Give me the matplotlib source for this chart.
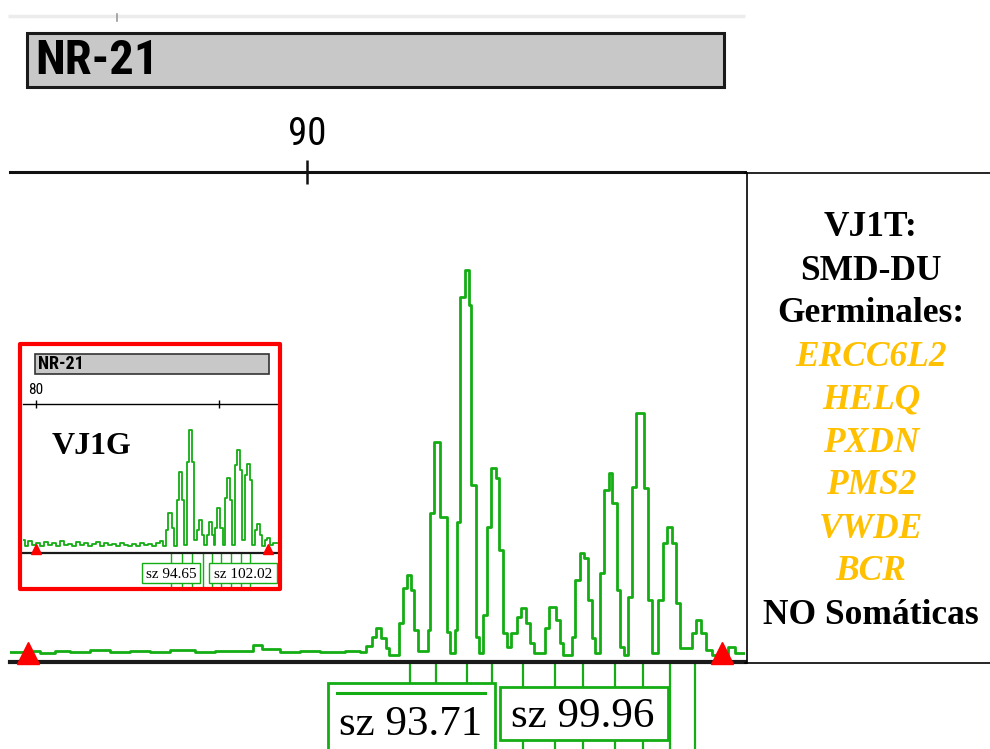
import matplotlib
matplotlib.use("Agg")
import matplotlib.pyplot as plt
from matplotlib import font_manager
from matplotlib.patches import Rectangle

# NR-21 electropherogram, tumour (VJ1T) with germline sample (VJ1G) as inset

# main trace (size in bp, height in RFU), drawn as steps
trace_bp = [79.93, 80.44, 80.95, 81.46, 81.97, 82.64, 83.32, 84.00, 84.68, 85.36,
            86.20, 86.88, 87.73, 88.17, 88.47, 89.08, 89.76, 90.44, 91.29, 91.80,
            92.00, 92.20, 92.34, 92.51, 92.68, 92.78,
            93.12, 93.25, 93.39, 93.53, 93.63, 93.76,
            94.10, 94.17, 94.31, 94.51, 94.75, 94.85,
            95.02, 95.08, 95.19, 95.36, 95.49, 95.56, 95.73, 95.83,
            95.97, 96.10, 96.24, 96.41, 96.51, 96.64, 96.78,
            96.92, 97.12, 97.25, 97.42, 97.56, 97.69,
            98.07, 98.20, 98.44, 98.58, 98.68,
            98.98, 99.08, 99.25, 99.39, 99.53, 99.66, 99.76,
            99.93, 100.07, 100.24, 100.34, 100.51, 100.61, 100.75,
            100.88, 101.02, 101.15, 101.42, 101.56, 101.69,
            101.90, 102.07, 102.20, 102.37, 102.51, 102.64,
            103.05, 103.19, 103.36, 103.53, 103.73,
            104.27, 104.51, 104.85]
trace_rfu = [50, 60, 40, 60, 50, 70, 50, 60, 50, 70,
             50, 60, 60, 120, 80, 50, 60, 50, 60, 50,
             110, 200, 290, 190, 90, 20,
             340, 690, 820, 670, 270, 60,
             270, 1440, 2150, 1400, 250, 40,
             270, 1350, 3600, 3870, 3520, 1720, 200, 40,
             420, 1300, 1890, 1790, 1070, 240, 100,
             240, 400, 490, 340, 140, 40,
             290, 500, 370, 140, 20,
             200, 770, 1040, 990, 570, 190, 40,
             840, 1670, 1840, 1540, 670, 100, 20,
             600, 1700, 2440, 1690, 570, 40,
             570, 1140, 1300, 1140, 540, 90,
             240, 370, 240, 70, 20,
             100, 40, 40]

# inset trace, germline sample
inset_bp = [78.62, 78.83, 79.16, 79.60, 80.03, 80.47, 80.91, 81.34, 81.78, 82.21,
            82.65, 83.09, 83.52, 83.96, 84.39, 84.83, 85.27, 85.70, 86.14, 86.58,
            87.01, 87.45, 87.88, 88.32, 88.76, 89.19, 89.63, 90.07, 90.50, 90.94,
            91.37, 91.81, 92.25, 92.68, 93.12, 93.56, 93.88,
            94.21, 94.43, 94.86, 95.08,
            95.41, 95.63, 95.95, 96.17,
            96.50, 96.72, 97.04, 97.26,
            97.59, 97.81, 98.14, 98.35,
            98.68, 98.90, 99.23, 99.44,
            99.55, 99.77, 100.10, 100.43,
            100.64, 100.86, 101.19, 101.41,
            101.73, 101.95, 102.28, 102.50,
            102.82, 103.04, 103.37, 103.59,
            103.91, 104.13, 104.46, 104.68,
            105.01, 105.23, 105.55, 105.88, 106.64]
inset_rfu = [225, 75, 200, 100, 150, 75, 175, 100, 150, 75,
             200, 100, 125, 75, 175, 100, 150, 75, 125, 175,
             75, 150, 100, 125, 75, 150, 100, 75, 125, 75,
             150, 100, 125, 75, 150, 200, 75,
             475, 900, 525, 75,
             1225, 1925, 1225, 100,
             2175, 2975, 2175, 225,
             475, 725, 350, 100,
             350, 675, 350, 100,
             525, 1025, 525, 100,
             1275, 1775, 1225, 100,
             2100, 2475, 1975, 225,
             1850, 2125, 1725, 100,
             475, 625, 350, 75,
             225, 275, 100, 150, 100]

main_ticks = [90]
main_tick_labels = ["90"]
inset_ticks = [80, 100]
inset_tick_labels = ["80", ""]

main_markers_bp = [80.54, 104.07]
inset_markers_bp = [80.03, 105.33]

main_bins_bp = [93.49, 94.37, 95.42, 96.27, 97.32, 98.41, 99.36, 100.44, 101.39, 102.31, 103.15]
inset_bins_bp = [94.75, 95.95, 97.04, 98.24, 99.23, 100.21, 101.30, 102.39, 103.37]

marker_name = "NR-21"
main_calls = ["sz 93.71", "sz 99.96"]
inset_calls = ["sz 94.65", "sz 102.02"]
inset_sample = "VJ1G"

side_lines = ["VJ1T:", "SMD-DU", "Germinales:", "ERCC6L2", "HELQ", "PXDN",
              "PMS2", "VWDE", "BCR", "NO Somáticas"]
side_is_gene = [False, False, False, True, True, True, True, True, True, False]

GREEN = "#14ad14"
RED = "#ff0000"
GOLD = "#ffc000"

names = {f.name for f in font_manager.fontManager.ttflist}
narrow = "Liberation Sans" if "Liberation Sans" in names else "DejaVu Sans"
for cand in ["Liberation Sans Narrow", "Roboto Condensed", "Open Sans Condensed", "DejaVu Sans Condensed"]:
    if cand in names:
        narrow = cand
        break
serif = "Liberation Serif" if "Liberation Serif" in names else "DejaVu Serif"

W, H = 990, 749
fig = plt.figure(figsize=(W / 100, H / 100), dpi=100)


def frac(x0, y0, x1, y1):
    return [x0 / W, 1 - y1 / H, (x1 - x0) / W, (y1 - y0) / H]


# --- main electropherogram ---
ax = fig.add_axes(frac(10, 172, 745, 662))
ax.set_zorder(1)
ax.step(trace_bp, trace_rfu, where="post", color=GREEN, lw=2.0, zorder=3)
ax.set_xlim(79.93, 104.85)
ax.set_ylim(-50, 4850)
for s in ["left", "right"]:
    ax.spines[s].set_visible(False)
ax.spines["top"].set_linewidth(2.2)
ax.spines["top"].set_color("#111111")
ax.spines["bottom"].set_linewidth(3.0)
ax.spines["bottom"].set_color("#1a1a1a")
ax.set_yticks([])
ax.xaxis.tick_top()
ax.set_xticks(main_ticks)
ax.set_xticklabels(main_tick_labels, family=narrow)
ax.tick_params(axis="x", direction="inout", length=17, width=1.8, pad=5,
               labelsize=28, color="#111111")
ax.plot(main_markers_bp, [40] * len(main_markers_bp), ls="none", marker="^", ms=16,
        color=RED, clip_on=False, zorder=6)
ax.vlines(main_bins_bp, -60, -950, color=GREEN, lw=1.6, clip_on=False)

# --- inset (germline) ---
ins = fig.add_axes(frac(23, 404, 280, 553))
ins.set_zorder(2)
ins.set_facecolor("white")
ins.step(inset_bp, inset_rfu, where="post", color=GREEN, lw=1.3, zorder=3)
ins.set_xlim(78.62, 106.64)
ins.set_ylim(-100, 3625)
for s in ["left", "right"]:
    ins.spines[s].set_visible(False)
ins.spines["top"].set_linewidth(1.0)
ins.spines["bottom"].set_linewidth(1.6)
ins.spines["bottom"].set_color("#1a1a1a")
ins.set_yticks([])
ins.xaxis.tick_top()
ins.set_xticks(inset_ticks)
ins.set_xticklabels(inset_tick_labels, family=narrow)
ins.tick_params(axis="x", direction="inout", length=6, width=1.0, pad=2, labelsize=11)
ins.plot(inset_markers_bp, [0] * len(inset_markers_bp), ls="none", marker="^", ms=7,
         color=RED, clip_on=False, zorder=6)
ins.vlines(inset_bins_bp, -100, -975, color=GREEN, lw=1.0, clip_on=False)

# --- overlay in pixel units for header bars, call boxes and notes ---
ov = fig.add_axes([0, 0, 1, 1])
ov.set_zorder(3)
ov.patch.set_alpha(0)
ov.set_xlim(0, W)
ov.set_ylim(H, 0)
ov.axis("off")

ov.plot([8, 745], [16, 16], color="#ececec", lw=2.5, solid_capstyle="butt")
ov.plot([117, 117], [14, 21], color="#9a9a9a", lw=1.2)

ov.add_patch(Rectangle((27, 33), 697, 54, facecolor="#c8c8c8", edgecolor="#1a1a1a", lw=2.2))
ov.text(35, 61, marker_name, family=narrow, weight="bold", fontsize=35,
        va="center", ha="left", color="black")

# right-hand notes box
ov.plot([745, 990], [173, 173], color="black", lw=1.2)
ov.plot([747, 747], [173, 663], color="black", lw=1.2)
ov.plot([745, 990], [663, 663], color="black", lw=1.2)
for i, (line, gene) in enumerate(zip(side_lines, side_is_gene)):
    ov.text(871, 228 + i * 43.0, line, family=serif, weight="bold",
            style="italic" if gene else "normal", color=GOLD if gene else "black",
            fontsize=25.5, ha="center", va="center")

# allele call boxes under the main trace
ov.add_patch(Rectangle((328, 683), 167, 80, facecolor="white", edgecolor=GREEN, lw=2))
ov.plot([337, 485], [693, 693], color=GREEN, lw=2.2)
ov.text(411, 725, main_calls[0], family=serif, fontsize=31, ha="center", va="center")
ov.add_patch(Rectangle((500, 687), 168, 53, facecolor="white", edgecolor=GREEN, lw=2))
ov.text(583, 717, main_calls[1], family=serif, fontsize=31, ha="center", va="center")

# inset frame and labels
ov.add_patch(Rectangle((35, 354), 234, 20, facecolor="#c8c8c8", edgecolor="#333333", lw=1.2))
ov.text(38, 364, marker_name, family=narrow, weight="bold", fontsize=13,
        va="center", ha="left")
ov.text(52, 446, inset_sample, family=serif, weight="bold", fontsize=23,
        va="center", ha="left")
ov.add_patch(Rectangle((142, 563), 58, 20, facecolor="white", edgecolor=GREEN, lw=1))
ov.text(171, 574, inset_calls[0], family=serif, fontsize=11, ha="center", va="center")
ov.add_patch(Rectangle((209, 563), 68, 20, facecolor="white", edgecolor=GREEN, lw=1))
ov.text(243, 574, inset_calls[1], family=serif, fontsize=11, ha="center", va="center")
ov.add_patch(Rectangle((20, 344), 260, 245, fill=False, edgecolor=RED, lw=3,
                       joinstyle="round"))

fig.savefig("out.png", dpi=100)
